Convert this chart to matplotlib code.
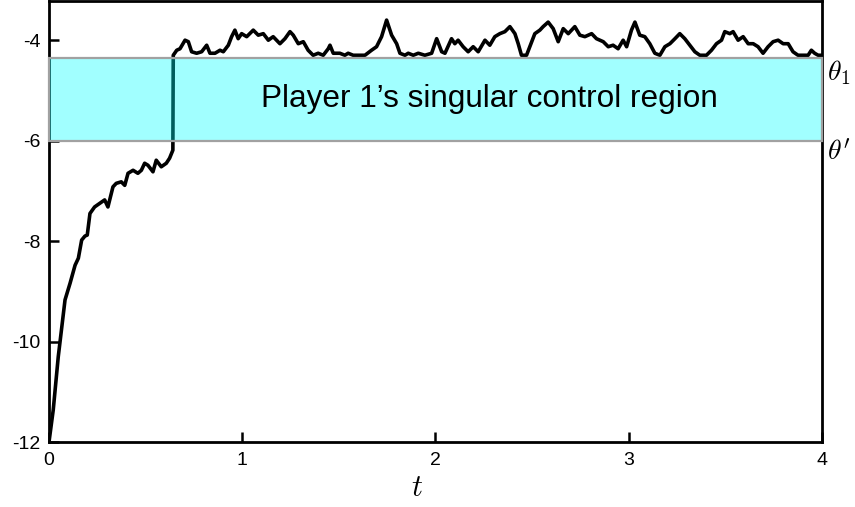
import matplotlib
matplotlib.use("Agg")
import matplotlib.pyplot as plt
from matplotlib.patches import Rectangle

# thresholds of the singular control region
theta_1 = -4.36
theta_p = -6.0

# sample path
t = [0.0, 0.022, 0.048, 0.066, 0.083, 0.109, 0.135, 0.152, 0.169, 0.186,
     0.198, 0.212, 0.236, 0.262, 0.288, 0.305, 0.331, 0.348, 0.374, 0.392,
     0.409, 0.435, 0.460, 0.478, 0.495, 0.512, 0.538, 0.555, 0.581, 0.607,
     0.624, 0.641, 0.643, 0.661, 0.678, 0.704, 0.721, 0.738, 0.764, 0.790,
     0.816, 0.833, 0.859, 0.885, 0.902, 0.928, 0.945, 0.962, 0.979, 0.997,
     1.023, 1.057, 1.083, 1.109, 1.135, 1.160, 1.195, 1.221, 1.247, 1.264,
     1.290, 1.316, 1.341, 1.367, 1.393, 1.419, 1.445, 1.454, 1.471, 1.505,
     1.531, 1.548, 1.574, 1.635, 1.669, 1.695, 1.721, 1.747, 1.773, 1.799,
     1.816, 1.842, 1.859, 1.885, 1.911, 1.945, 1.980, 2.006, 2.032, 2.049,
     2.083, 2.100, 2.117, 2.143, 2.169, 2.195, 2.221, 2.256, 2.281, 2.307,
     2.333, 2.359, 2.385, 2.411, 2.428, 2.445, 2.471, 2.488, 2.514, 2.540,
     2.557, 2.583, 2.609, 2.635, 2.661, 2.687, 2.721, 2.747, 2.773, 2.808,
     2.833, 2.868, 2.894, 2.919, 2.945, 2.971, 2.989, 3.014, 3.032, 3.057,
     3.083, 3.109, 3.135, 3.161, 3.187, 3.213, 3.239, 3.264, 3.290, 3.316,
     3.342, 3.368, 3.402, 3.428, 3.454, 3.480, 3.497, 3.523, 3.540, 3.566,
     3.592, 3.618, 3.644, 3.669, 3.695, 3.721, 3.747, 3.773, 3.799, 3.825,
     3.850, 3.876, 3.928, 3.945, 3.962, 3.980, 4.0]
x = [-12.0, -11.36, -10.30, -9.71, -9.17, -8.84, -8.48, -8.34, -7.98, -7.90,
     -7.88, -7.45, -7.32, -7.25, -7.18, -7.32, -6.92, -6.85, -6.82, -6.89,
     -6.65, -6.59, -6.65, -6.59, -6.45, -6.49, -6.62, -6.39, -6.52, -6.45,
     -6.35, -6.19, -4.30, -4.20, -4.17, -4.00, -4.03, -4.23, -4.26, -4.23,
     -4.10, -4.26, -4.26, -4.20, -4.23, -4.10, -3.93, -3.80, -3.97, -3.87,
     -3.93, -3.80, -3.90, -3.87, -4.00, -3.93, -4.07, -3.97, -3.83, -3.90,
     -4.07, -4.03, -4.20, -4.30, -4.26, -4.30, -4.17, -4.10, -4.26, -4.26,
     -4.30, -4.26, -4.30, -4.30, -4.20, -4.13, -3.93, -3.60, -3.90, -4.07,
     -4.26, -4.30, -4.26, -4.30, -4.26, -4.30, -4.26, -3.97, -4.23, -4.26,
     -3.97, -4.07, -4.00, -4.13, -4.23, -4.13, -4.23, -4.00, -4.10, -3.93,
     -3.87, -3.83, -3.73, -3.87, -4.07, -4.30, -4.30, -4.13, -3.87, -3.80,
     -3.73, -3.64, -3.77, -4.03, -3.77, -3.87, -3.73, -3.90, -3.93, -3.87,
     -3.97, -4.03, -4.13, -4.10, -4.17, -4.00, -4.13, -3.80, -3.64, -3.90,
     -3.93, -4.07, -4.26, -4.30, -4.13, -4.07, -3.97, -3.87, -3.97, -4.10,
     -4.23, -4.30, -4.30, -4.20, -4.07, -4.00, -3.83, -3.87, -3.83, -4.00,
     -3.93, -4.07, -4.07, -4.13, -4.26, -4.13, -4.03, -4.00, -4.07, -4.07,
     -4.23, -4.30, -4.30, -4.20, -4.26, -4.30, -4.30]

xticks = [0, 1, 2, 3, 4]
yticks = [-12, -10, -8, -6, -4]
region_label = "Player 1\u2019s singular control region"

plt.rcParams['font.family'] = ['Liberation Sans', 'DejaVu Sans']
plt.rcParams['mathtext.fontset'] = 'cm'
plt.rcParams['axes.unicode_minus'] = False

fig = plt.figure(figsize=(8.55, 5.07), dpi=100)
ax = fig.add_axes([0.0573, 0.1282, 0.9041, 0.8698])

ax.plot(t, x, color='black', lw=2.6, zorder=2)

# shaded band between theta' and theta_1
band = Rectangle((0, theta_p), 4, theta_1 - theta_p,
                 facecolor=(0.0, 1.0, 1.0, 0.37),
                 edgecolor=(0.63, 0.63, 0.63, 1.0), lw=1.6,
                 zorder=3, clip_on=False)
ax.add_patch(band)
ax.text(2.28, (theta_1 + theta_p) / 2, region_label, fontsize=22.7,
        ha='center', va='center', zorder=4)

ax.text(4.025, theta_1, r'$\theta_1$', fontsize=20, ha='left', va='top')
ax.text(4.025, theta_p, r"$\theta'$", fontsize=20, ha='left', va='top')

ax.set_xlim(0, 4)
ax.set_ylim(-12, -3.22)
ax.set_xticks(xticks)
ax.set_yticks(yticks)
ax.tick_params(direction='in', length=7, width=1.8, labelsize=14,
               top=False, right=False)
ax.tick_params(axis='x', pad=7)
ax.tick_params(axis='y', pad=6)
for s in ax.spines.values():
    s.set_linewidth(2)

ax.set_xlabel(r'$t$', fontsize=22)
ax.xaxis.set_label_coords((417 - 49) / 773, -0.07)

fig.savefig('out.png', dpi=100)
